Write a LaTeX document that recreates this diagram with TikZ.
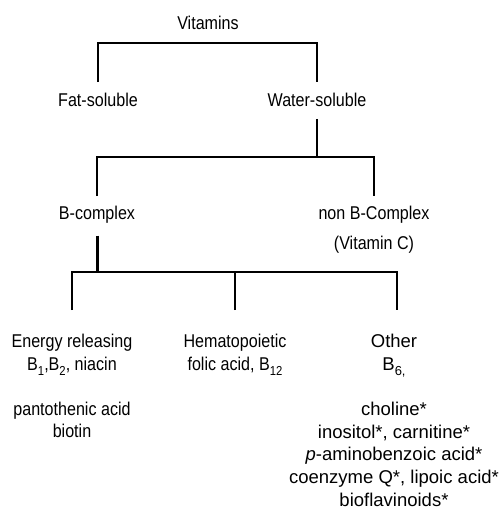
\documentclass[tikz,border=0pt]{standalone}
\usepackage{fontspec}
\setmainfont{Liberation Sans}[FakeStretch=0.87]
\newfontfamily\widefont{Liberation Sans}[FakeStretch=1.0]
\usepackage{tikz}

\newcommand{\lowsub}[1]{\raisebox{-0.55ex}{\fontsize{13}{13}\selectfont #1}}

\begin{document}
\begin{tikzpicture}[x=1pt, y=-1pt,
  lbl/.style={inner sep=0pt, align=center, font=\fontsize{18.5}{22.5}\selectfont},
  widelbl/.style={lbl, font=\widefont\fontsize{18.5}{22.8}\selectfont},
  branch/.style={line width=2pt}]
\useasboundingbox (0,0) rectangle (503,522);

% bar heights
\coordinate (vitbar) at (0,43);
\coordinate (watbar) at (0,157);
\coordinate (bbar) at (0,272);

% Top
\node[lbl] (vit) at (208,23) {Vitamins};

% Level 1
\node[lbl] (fat) at (98,100) {Fat-soluble};
\node[lbl] (water) at (317,100) {Water-soluble};
\draw[branch, shorten <=11pt, shorten >=11pt] (fat.north) -- (fat.north |- vitbar) -| (water.north);

% Level 2
\node[lbl, anchor=north] (bcx) at (97,206) {B-complex};
\node[lbl, anchor=north] (nonb) at (374,206) {non B-Complex\\[7pt] (Vitamin C)};
\draw[branch, shorten <=12pt] (water.south) -- (water.south |- watbar);
\draw[branch, shorten <=10pt, shorten >=10pt] (bcx.north) -- (bcx.north |- watbar) -| (nonb.north);

% Level 3
\node[lbl, anchor=north] (energy) at (72,334) {Energy releasing\\
  B\lowsub{1},B\lowsub{2}, niacin\\[22.5pt]
  pantothenic acid\\ biotin};
\node[lbl, anchor=north] (hema) at (235,334) {Hematopoietic\\
  folic acid, B\lowsub{12}};
\node[widelbl, anchor=north] (other) at (394,334) {Other\\ B\lowsub{6,}\\[22pt]
  choline*\\ inositol*, carnitine*\\ \textit{p}-aminobenzoic acid*\\
  coenzyme Q*, lipoic acid*\\ bioflavinoids*};
\draw[line width=3pt, shorten <=12pt] (bcx.south) -- (bcx.south |- bbar);
\draw[branch, shorten <=24pt, shorten >=24pt] (energy.north) -- (energy.north |- bbar) -| ([xshift=3pt]other.north);
\draw[branch, shorten <=24pt] (hema.north) -- (hema.north |- bbar);
\end{tikzpicture}
\end{document}
